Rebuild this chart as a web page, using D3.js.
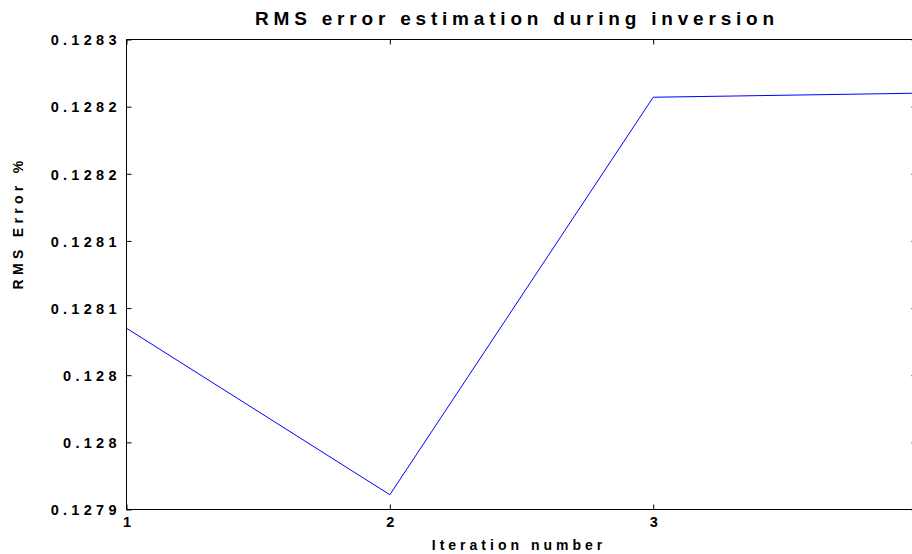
<!DOCTYPE html>
<html>
<head>
<meta charset="utf-8">
<script src="https://cdn.jsdelivr.net/npm/d3@7"></script>
<style>
  html, body { margin: 0; padding: 0; background: #fff; }
  svg { display: block; }
  text { font-family: "Liberation Sans", Arial, sans-serif; font-weight: bold; fill: #000; }
</style>
</head>
<body>
<svg id="chart" width="912" height="554"></svg>
<script>
// Iterations of the inversion and the RMS error reached at each one
const iterations = [1, 2, 3, 4];
const rmsError = [0.128085, 0.127961, 0.128257, 0.128260];

// Axis ticks and their printed labels (four significant digits)
const xTicks = [1, 2, 3, 4];
const yTicks = [0.12795, 0.1280, 0.12805, 0.1281, 0.12815, 0.1282, 0.12825, 0.1283];
const yTickLabels = ["0.1279", "0.128", "0.128", "0.1281", "0.1281", "0.1282", "0.1282", "0.1283"];

const svg = d3.select("#chart");
const plotLeft = 126.5, plotRight = 916.5, plotTop = 39.5, plotBottom = 509.5;

const x = d3.scaleLinear().domain([1, 4]).range([plotLeft, plotRight]);
const y = d3.scaleLinear().domain([0.12795, 0.1283]).range([plotBottom, plotTop]);

// Frame of the axes box
svg.append("rect")
  .attr("x", plotLeft).attr("y", plotTop)
  .attr("width", plotRight - plotLeft).attr("height", plotBottom - plotTop)
  .attr("fill", "none").attr("stroke", "#000").attr("stroke-width", 1);

// Inward ticks on all four sides
const tickLen = 5;
const tickSpacing = 4.3;
const axisBottom = d3.axisBottom(x).tickValues(xTicks).tickSizeInner(-tickLen).tickSizeOuter(0)
  .tickPadding(10).tickFormat(d3.format("d"));
const axisTop = d3.axisTop(x).tickValues(xTicks).tickSizeInner(-tickLen).tickSizeOuter(0).tickFormat("");
const axisLeft = d3.axisLeft(y).tickValues(yTicks).tickSizeInner(-tickLen).tickSizeOuter(0)
  .tickPadding(10).tickFormat((d, i) => yTickLabels[i]);
const axisRight = d3.axisRight(y).tickValues(yTicks).tickSizeInner(-tickLen).tickSizeOuter(0).tickFormat("");

function styleAxis(g) {
  g.select(".domain").remove();
  g.selectAll(".tick line").attr("stroke", "#000").attr("stroke-width", 1);
  g.selectAll(".tick text").attr("font-size", 14.5).attr("letter-spacing", tickSpacing + "px")
    .style("font-family", "'Liberation Sans', Arial, sans-serif").style("font-weight", "bold");
}

svg.append("g").attr("transform", `translate(0,${plotBottom})`).call(axisBottom).call(styleAxis)
  .selectAll(".tick text").attr("dx", (tickSpacing / 2) + "px").attr("dy", "0.55em");
svg.append("g").attr("transform", `translate(0,${plotTop})`).call(axisTop).call(styleAxis);
svg.append("g").attr("transform", `translate(${plotLeft},0)`).call(axisLeft).call(styleAxis)
  .selectAll(".tick text").attr("dx", tickSpacing + "px").attr("dy", "0.36em");
svg.append("g").attr("transform", `translate(${plotRight},0)`).call(axisRight).call(styleAxis);

// Error curve
const line = d3.line().x((d, i) => x(iterations[i])).y(d => y(d));
svg.append("path")
  .datum(rmsError)
  .attr("d", line)
  .attr("fill", "none")
  .attr("stroke", "#0000ff")
  .attr("stroke-width", 1);

// Titles
svg.append("text")
  .attr("x", 517).attr("y", 25)
  .attr("text-anchor", "middle")
  .attr("font-size", 19)
  .attr("letter-spacing", "4.8px")
  .text("RMS error estimation during inversion");

svg.append("text")
  .attr("x", 519).attr("y", 550)
  .attr("text-anchor", "middle")
  .attr("font-size", 14)
  .attr("letter-spacing", "4px")
  .text("Iteration number");

svg.append("text")
  .attr("transform", "translate(23,223) rotate(-90)")
  .attr("text-anchor", "middle")
  .attr("font-size", 14)
  .attr("letter-spacing", "4.3px")
  .text("RMS Error %");
</script>
</body>
</html>
